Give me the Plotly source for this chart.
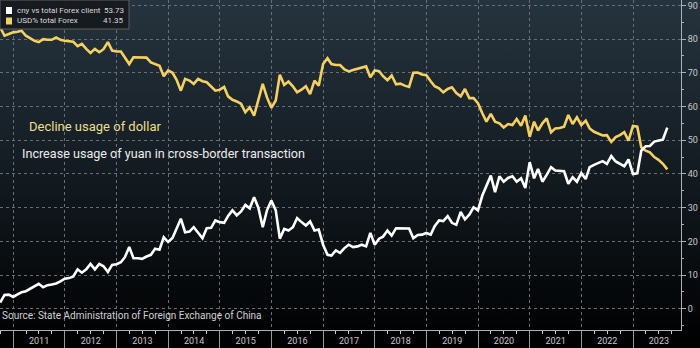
import base64
import pandas as pd
import plotly.graph_objects as go

# Monthly observations, month-end dates
start_month = "2010-09-30"
n_months = 156

cny_share = [
    1.8, 4.1, 4.2, 3.5, 4.3, 4.9, 5.2, 6.0, 6.8, 7.4,
    6.4, 7.0, 7.2, 7.5, 8.1, 8.9, 9.1, 9.6, 11.7, 10.7,
    11.7, 13.3, 11.7, 13.3, 12.6, 10.9, 13.0, 13.2, 13.8, 15.3,
    18.3, 15.0, 15.0, 14.8, 15.5, 16.0, 17.8, 17.5, 21.2, 19.8,
    21.0, 23.5, 26.7, 22.7, 22.9, 24.2, 22.7, 20.9, 23.9, 24.0,
    26.2, 25.7, 25.5, 27.5, 29.2, 27.7, 28.9, 30.8, 29.8, 33.1,
    30.0, 24.2, 29.2, 32.1, 29.2, 20.8, 23.7, 23.2, 24.2, 26.9,
    25.7, 24.7, 25.9, 23.2, 23.5, 19.0, 16.0, 15.8, 17.3, 16.6,
    18.0, 19.0, 18.3, 18.5, 19.0, 18.5, 22.5, 19.0, 20.8, 21.4,
    23.2, 21.7, 23.9, 23.9, 23.9, 23.8, 20.9, 21.9, 22.0, 22.5,
    22.0, 24.5, 26.2, 26.0, 27.5, 25.5, 24.9, 28.7, 26.5, 27.9,
    30.1, 29.2, 33.6, 36.6, 39.5, 34.6, 39.3, 37.7, 38.8, 39.3,
    37.7, 38.7, 35.8, 43.5, 38.7, 41.5, 37.7, 39.7, 42.0, 41.0,
    41.0, 40.8, 37.1, 39.0, 37.7, 40.3, 38.5, 42.0, 42.7, 43.2,
    43.8, 43.0, 45.3, 43.7, 43.0, 42.3, 44.3, 40.0, 40.2, 46.9,
    48.2, 48.3, 49.6, 49.9, 50.2, 53.73,
]

usd_share = [
    83.5, 81.0, 81.5, 82.0, 82.2, 82.5, 81.0, 80.2, 79.5, 79.1,
    80.0, 79.8, 79.8, 80.5, 79.8, 79.5, 79.3, 79.2, 77.9, 78.6,
    77.1, 75.9, 77.1, 76.1, 77.0, 79.1, 76.6, 76.3, 76.3, 74.6,
    72.6, 74.6, 74.6, 74.6, 74.5, 73.1, 72.6, 72.1, 69.0, 70.7,
    70.0, 68.0, 64.7, 68.2, 67.7, 66.7, 68.2, 67.5, 67.2, 66.0,
    64.7, 65.0, 65.8, 63.0, 62.0, 61.5, 60.8, 58.3, 59.8, 57.3,
    61.8, 66.7, 62.7, 59.6, 61.8, 69.4, 66.4, 67.4, 66.0, 64.2,
    65.0, 66.0, 63.7, 67.7, 66.2, 72.6, 74.3, 72.6, 72.3, 72.3,
    71.0, 70.4, 70.8, 71.2, 71.6, 71.9, 68.7, 70.7, 70.5, 69.0,
    67.8, 69.2, 66.6, 66.8, 66.2, 65.8, 70.0, 70.1, 69.5, 69.3,
    67.5, 66.0, 65.4, 64.2, 65.2, 65.7, 64.0, 63.0, 65.2, 62.5,
    62.5, 61.0, 58.0, 55.5, 57.8, 55.5, 55.0, 53.8, 54.8, 54.5,
    56.3, 54.3, 57.3, 51.0, 55.5, 52.9, 55.0, 56.5, 52.3, 53.5,
    53.6, 54.0, 57.5, 54.8, 56.8, 54.5, 55.8, 53.5, 52.5, 52.0,
    51.4, 51.5, 49.5, 50.9, 51.5, 52.4, 49.9, 54.2, 54.0, 47.9,
    46.9, 46.4, 45.0, 44.2, 43.0, 41.35,
]

series_names = ["cny vs total Forex client", "USD% total Forex"]
series_colors = ["#ffffff", "#f6d162"]

dates = pd.date_range(start_month, periods=n_months, freq="ME")

W, H = 700, 348
M_L, M_R, M_T, M_B = 0, 19, 0, 18
PW, PH = W - M_L - M_R, H - M_T - M_B


def px(x):
    return (x - M_L) / PW


def py(y):
    return 1 - (y - M_T) / PH


fig = go.Figure()
fig.add_trace(go.Scatter(x=dates, y=usd_share, mode="lines", name=series_names[1],
                         line=dict(color=series_colors[1], width=2.6)))
fig.add_trace(go.Scatter(x=dates, y=cny_share, mode="lines", name=series_names[0],
                         line=dict(color=series_colors[0], width=2.6)))

# Background gradient (dark slate at the top fading to black)
svg = (
    '<svg xmlns="http://www.w3.org/2000/svg" width="700" height="348" preserveAspectRatio="none">'
    '<defs><linearGradient id="g" x1="0" y1="0" x2="0" y2="1">'
    '<stop offset="0" stop-color="#26343f"/>'
    '<stop offset="0.5" stop-color="#131b21"/>'
    '<stop offset="0.95" stop-color="#010203"/>'
    '<stop offset="1" stop-color="#000000"/>'
    '</linearGradient></defs>'
    '<rect width="700" height="348" fill="url(#g)"/></svg>'
)
bg_src = "data:image/svg+xml;base64," + base64.b64encode(svg.encode()).decode()

fig.add_layout_image(dict(
    source=bg_src, xref="paper", yref="paper", x=px(0), y=py(0),
    sizex=W / PW, sizey=H / PH, xanchor="left", yanchor="top",
    sizing="stretch", layer="below",
))

grid = "#6a6e72"
tick_font = dict(family="Roboto, Arial, sans-serif", size=9, color="#c9c9c9")

fig.update_xaxes(
    type="date",
    range=["2010-09-29", "2023-12-06"],
    dtick="M12", tick0="2011-01-01", tickformat="%Y", ticklabelmode="period",
    showgrid=True, gridcolor=grid, griddash="dot", gridwidth=1,
    ticks="outside", ticklen=18, tickcolor="#9a9a9a", tickwidth=1,
    ticklabelstandoff=-16,
    showline=True, linecolor="#b0b0b0", linewidth=1,
    tickfont=tick_font, automargin=False, zeroline=False,
    minor=dict(ticks="outside", ticklen=3, dtick="M3", tick0="2011-01-01",
               tickcolor="#d0d0d0", showgrid=False),
)
fig.update_yaxes(
    side="right", range=[-6.3, 91.6], dtick=10, tick0=0,
    showgrid=True, gridcolor=grid, griddash="dot", gridwidth=1,
    ticks="outside", ticklen=4, tickcolor="#b0b0b0",
    showline=True, linecolor="#b0b0b0", linewidth=1, mirror=False,
    tickfont=tick_font, automargin=False, zeroline=False,
    minor=dict(ticks="outside", ticklen=2, dtick=5, tickcolor="#b0b0b0", showgrid=False),
)

shapes = []
annotations = []
legend_font = dict(family="Roboto, Arial, sans-serif", size=8, color="#d8d8d8")

# Legend box with last values
shapes.append(dict(type="rect", xref="paper", yref="paper",
                   x0=px(0), x1=px(129), y0=py(0), y1=py(29),
                   fillcolor="rgba(22,26,30,0.95)", line=dict(color="#5c5f62", width=1)))
last_vals = [cny_share[-1], usd_share[-1]]
for k, (name, col, val) in enumerate(zip(series_names, series_colors, last_vals)):
    yc = 10.5 + k * 10.5
    shapes.append(dict(type="rect", xref="paper", yref="paper",
                       x0=px(6), x1=px(12), y0=py(yc - 3.5), y1=py(yc + 3.5),
                       fillcolor=col, line=dict(width=0)))
    annotations.append(dict(xref="paper", yref="paper", x=px(14.5), y=py(yc), text=name,
                            showarrow=False, xanchor="left", yanchor="middle",
                            font=legend_font))
    annotations.append(dict(xref="paper", yref="paper", x=px(126), y=py(yc), text=f"{val:.2f}",
                            showarrow=False, xanchor="right", yanchor="middle",
                            font=legend_font))

annotations.append(dict(xref="paper", yref="paper", x=px(27), y=py(126),
                        text="Decline usage of dollar", showarrow=False,
                        xanchor="left", yanchor="middle",
                        font=dict(family="Roboto, Arial, sans-serif", size=13, color="#ecdf8a")))
annotations.append(dict(xref="paper", yref="paper", x=px(20), y=py(153),
                        text="Increase usage of yuan in cross-border transaction", showarrow=False,
                        xanchor="left", yanchor="middle",
                        font=dict(family="Roboto, Arial, sans-serif", size=12.6, color="#ececec")))
annotations.append(dict(xref="paper", yref="paper", x=px(0), y=py(315),
                        text="Source: State Administration of Foreign Exchange of China",
                        showarrow=False, xanchor="left", yanchor="middle",
                        font=dict(family="Roboto, Arial, sans-serif", size=10, color="#d0d0d0")))

fig.update_layout(
    width=W, height=H,
    margin=dict(l=M_L, r=M_R, t=M_T, b=M_B, pad=0),
    paper_bgcolor="#000000", plot_bgcolor="rgba(0,0,0,0)",
    showlegend=False, shapes=shapes, annotations=annotations,
)

fig.write_html("out.html")
